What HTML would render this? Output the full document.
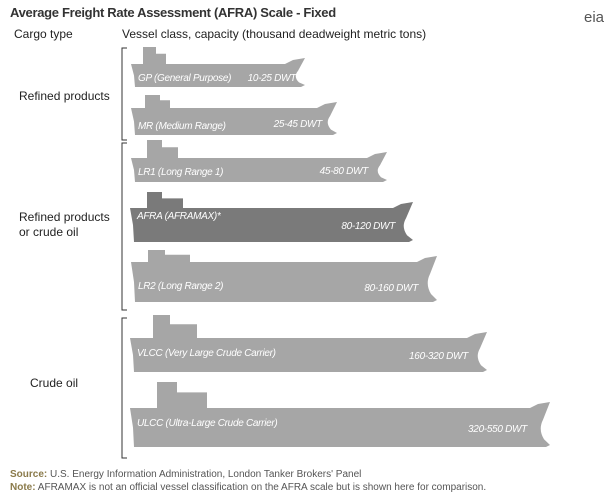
<!DOCTYPE html>
<html><head><meta charset="utf-8"><style>
body{margin:0;background:#fff;width:614px;height:496px;overflow:hidden;font-family:"Liberation Sans",Arial,sans-serif}
svg{position:absolute;left:0;top:0}
</style></head><body>
<svg width="614" height="496" id="s" xmlns="http://www.w3.org/2000/svg">
<text x="10" y="17" font-size="13" font-weight="bold" fill="#333" letter-spacing="-0.3">Average Freight Rate Assessment  (AFRA)  Scale - Fixed</text>
<text x="584" y="22" font-size="15" fill="#555">eia</text>
<text x="14" y="38" font-size="12" fill="#222">Cargo type</text>
<text x="122" y="38" font-size="12" fill="#222">Vessel class, capacity (thousand deadweight metric tons)</text>
<text x="19" y="100" font-size="12" fill="#222">Refined products</text>
<text x="19" y="221" font-size="12" fill="#222">Refined products</text>
<text x="19" y="236" font-size="12" fill="#222">or crude oil</text>
<text x="30" y="387" font-size="12" fill="#222">Crude oil</text>
<g stroke="#333" stroke-width="1" fill="none">
<path d="M127 48H122V140H127"/><path d="M127 143H122V310H127"/><path d="M127 318H122V458H127"/>
</g>
<g id="ships"></g>
<text x="10" y="477" font-size="10" fill="#555"><tspan font-weight="bold" fill="#8a7a4a">Source:</tspan> U.S. Energy Information Administration, London Tanker Brokers' Panel</text>
<text x="10" y="490" font-size="10" fill="#555"><tspan font-weight="bold" fill="#8a7a4a">Note:</tspan> AFRAMAX is not an official vessel classification on the AFRA scale but is shown here for comparison.</text>
</svg>
<script>
// L,T,B,R,ST,x1,x2,x3,color,label,dwt,dwtRightX,labelY,dwtY
var ships=[
[131,64,87,305,47,143,156,166,"#a6a6a6","GP (General Purpose)","10-25 DWT",296,81,81],
[131,108,135,337,95,145,160,170,"#a6a6a6","MR (Medium Range)","25-45 DWT",322,129,127],
[131,158,182,387,140,147,162,178,"#a6a6a6","LR1 (Long Range 1)","45-80 DWT",368,175,174],
[130,208,242,413,192,147,162,183,"#7a7a7a","AFRA (AFRAMAX)*","80-120 DWT",395,219,229],
[131,262,302,437,250,148,165,190,"#a6a6a6","LR2 (Long Range 2)","80-160 DWT",418,289,291],
[130,338,372,487,315,153,170,197,"#a6a6a6","VLCC (Very Large Crude Carrier)","160-320 DWT",468,356,359],
[130,408,447,550,382,157,177,207,"#a6a6a6","ULCC (Ultra-Large Crude Carrier)","320-550 DWT",527,426,432]];
var h="";
ships.forEach(function(s){
var L=s[0],T=s[1],B=s[2],R=s[3],ST=s[4],x1=s[5],x2=s[6],x3=s[7],c=s[8];
var hgt=B-T, mid=T+hgt*0.55, tw=(T-ST)*0.4;
var d="M"+L+" "+T+"L"+x1+" "+T+"L"+x1+" "+ST+"L"+x2+" "+ST+"L"+x2+" "+(ST+tw)+"L"+x3+" "+(ST+tw)+"L"+x3+" "+T+
"L"+(R-20)+" "+T+"L"+(R-12)+" "+(T-4)+"L"+R+" "+(T-6)+"L"+(R-7)+" "+(T+hgt*0.3)+"Q"+(R-12)+" "+mid+" "+(R-6)+" "+(B-hgt*0.2)+
"L"+R+" "+(B-2)+"L"+(R-4)+" "+B+"L"+(L+4)+" "+B+"L"+(L+3)+" "+(T+hgt*0.5)+"Z";
h+='<path d="'+d+'" fill="'+c+'"/>';
h+='<text x="'+(L+7)+'" y="'+s[12]+'" font-size="10" font-style="italic" fill="#fff" letter-spacing="-0.3">'+s[9]+'</text>';
h+='<text x="'+s[11]+'" y="'+s[13]+'" font-size="10" font-style="italic" fill="#fff" letter-spacing="-0.3" text-anchor="end">'+s[10]+'</text>';
});
document.getElementById("ships").innerHTML=h;
</script>
</body></html>
